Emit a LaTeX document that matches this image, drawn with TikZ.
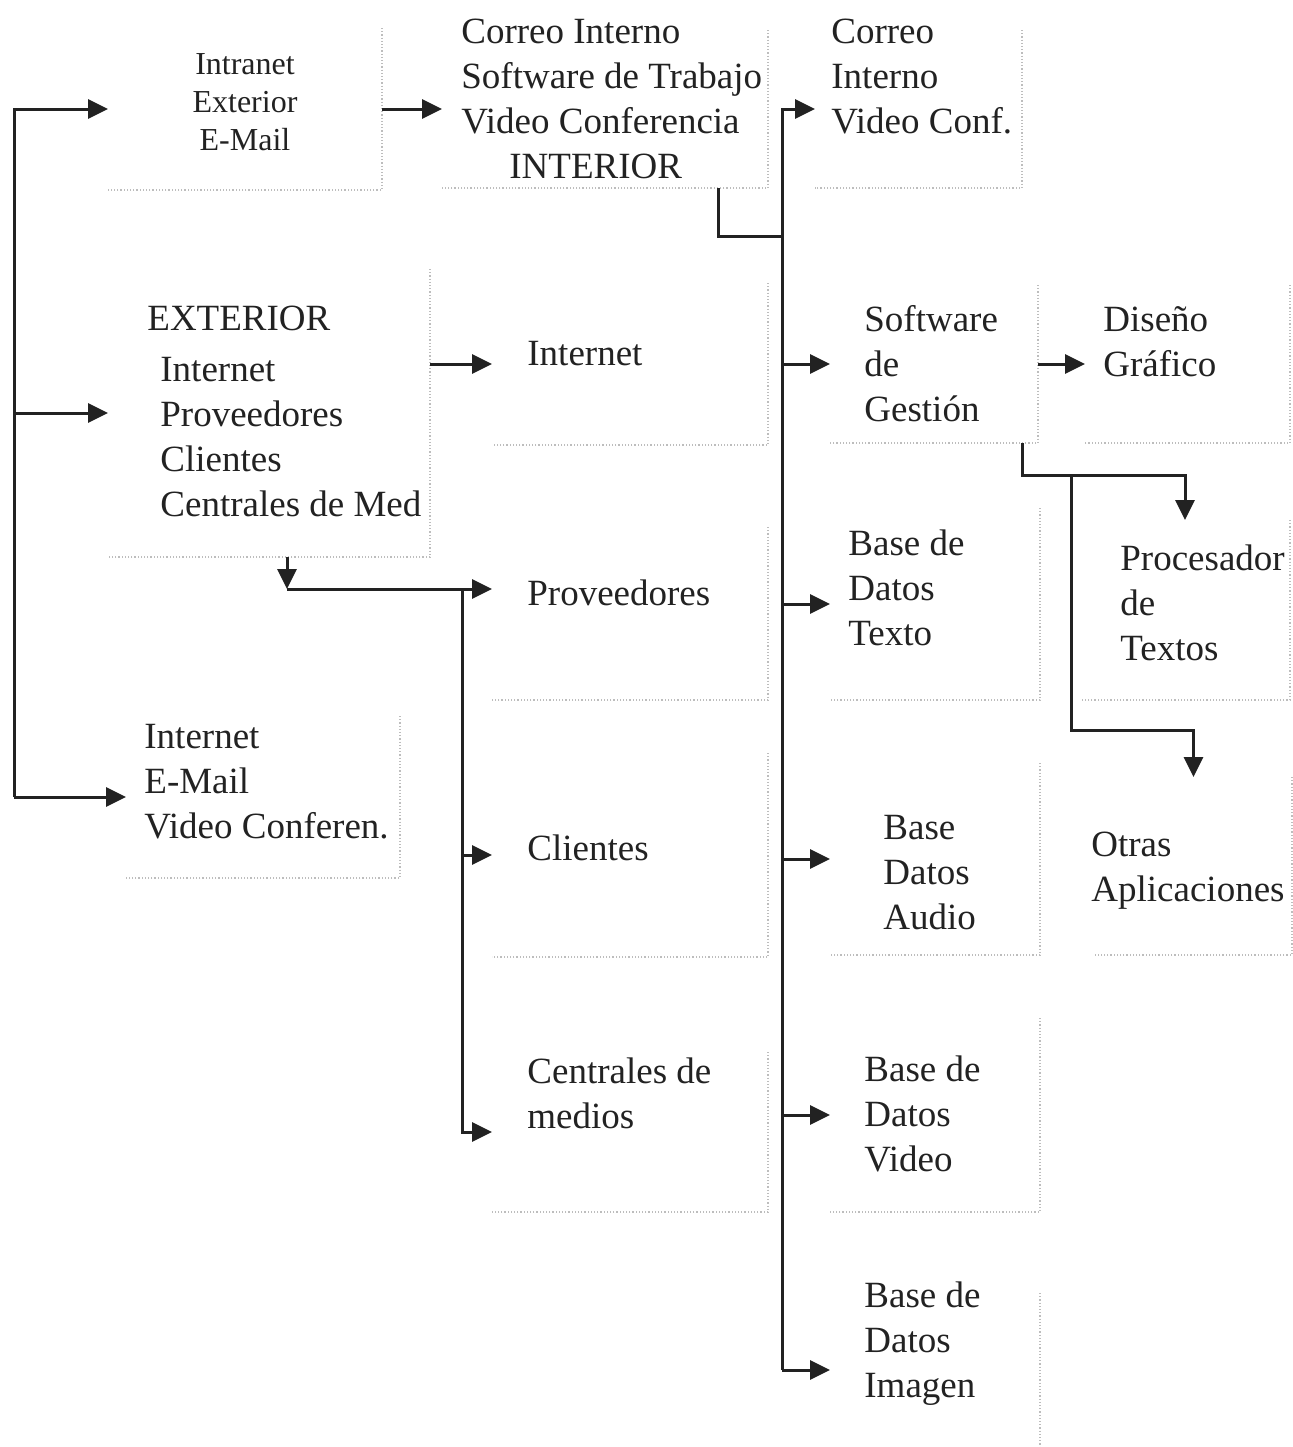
\documentclass[tikz,border=0pt]{standalone}
\usepackage{fontspec}
\setmainfont{Liberation Serif}
\usetikzlibrary{arrows.meta,fit}
\definecolor{ink}{HTML}{222222}
\definecolor{rim}{HTML}{BDBDBD}
\tikzset{
  frame/.style    = {inner sep=0pt, outer sep=0pt},
  rimline/.style  = {rim, densely dotted, line width=0.6pt},
  txt/.style      = {inner sep=0pt, align=left, anchor=base west, text=ink,
                     font=\fontsize{18.5}{22.4}\selectfont},
  smalltxt/.style = {inner sep=0pt, align=center, anchor=base, text=ink,
                     font=\fontsize{16}{19}\selectfont},
  link/.style     = {ink, line width=1.5pt},
  sig/.style      = {link, -{Triangle[length=10pt,width=9.5pt]}},
}
\begin{document}
\begin{tikzpicture}[x=0.5pt,y=-0.5pt]
\useasboundingbox (0,0) rectangle (1293,1447);
% frames (only right and bottom rims are shown)
\node[frame,fit={(108,28) (382,190)}]    (intra) {};
\node[frame,fit={(442,30) (768,188)}]    (interior) {};
\node[frame,fit={(815,30) (1022,188)}]   (vconf) {};
\node[frame,fit={(108,269) (430,557)}]   (ext) {};
\node[frame,fit={(492,283) (768,445)}]   (inet) {};
\node[frame,fit={(830,285) (1038,443)}]  (sgest) {};
\node[frame,fit={(1085,285) (1290,443)}] (disg) {};
\node[frame,fit={(492,527) (768,700)}]   (prov) {};
\node[frame,fit={(830,508) (1040,700)}]  (bdtex) {};
\node[frame,fit={(1080,520) (1290,700)}] (proc) {};
\node[frame,fit={(126,716) (400,878)}]   (iemail) {};
\node[frame,fit={(492,753) (768,957)}]   (cli) {};
\node[frame,fit={(830,763) (1040,955)}]  (bdaud) {};
\node[frame,fit={(1095,777) (1292,955)}] (otras) {};
\node[frame,fit={(492,1052) (768,1212)}] (cmed) {};
\node[frame,fit={(830,1018) (1040,1212)}] (bdvid) {};
\node[frame,fit={(830,1293) (1040,1447)}] (bdimg) {};
\foreach \n in {intra,interior,vconf,ext,inet,sgest,disg,prov,bdtex,proc,iemail,cli,bdaud,otras,cmed,bdvid}
  \draw[rimline] (\n.north east) -- (\n.south east) -- (\n.south west);
\draw[rimline] (bdimg.north east) -- (bdimg.south east);

% texts (placed at the baseline of their last line)
\node[smalltxt] (intraT) at (245,150) {Intranet\\Exterior\\E-Mail};
\node[txt] (interiorT) at (461,178) {Correo Interno\\Software de Trabajo\\Video Conferencia\\\hspace*{24pt}INTERIOR};
\node[txt] (vconfT) at (831,133) {Correo\\Interno\\Video Conf.};
\node[txt] (extT) at (147,516) {EXTERIOR\\[3.2pt]\hspace*{6.5pt}Internet\\\hspace*{6.5pt}Proveedores\\\hspace*{6.5pt}Clientes\\\hspace*{6.5pt}Centrales de Med};
\node[txt] (inetT) at (527,365) {Internet};
\node[txt] (sgestT) at (864,421) {Software\\de\\Gestión};
\node[txt] (disgT) at (1103,376) {Diseño\\Gráfico};
\node[txt] (provT) at (527,605) {Proveedores};
\node[txt] (bdtexT) at (848,645) {Base de\\Datos\\Texto};
\node[txt] (procT) at (1120,660) {Procesador\\de\\Textos};
\node[txt] (iemailT) at (144,838) {Internet\\E-Mail\\Video Conferen.};
\node[txt] (cliT) at (527,860) {Clientes};
\node[txt] (bdaudT) at (883,929) {Base\\Datos\\Audio};
\node[txt] (otrasT) at (1091,901) {Otras\\Aplicaciones};
\node[txt] (cmedT) at (527,1128) {Centrales de\\medios};
\node[txt] (bdvidT) at (864,1171) {Base de\\Datos\\Video};
\node[txt] (bdimgT) at (864,1397) {Base de\\Datos\\Imagen};

% buses and arrows
\coordinate (busL) at (14,0);
\coordinate (busM) at (782,0);
\coordinate (busP) at (462,0);
\coordinate (j1) at (718,236);
\coordinate (j2) at (287,589);
\coordinate (j4) at (1022,475);
\coordinate (j5) at (1071,730);

\draw[sig] (busL |- iemail.west) -- (busL |- intra.west) -- (intra.west);
\draw[sig] (busL |- ext.west) -- (ext.west);
\draw[sig] (busL |- iemail.west) -- (iemail.west);

\draw[sig] (intra.east) -- (interior.west);
\draw[link] (interior.south -| j1) |- (busM |- j1);

\draw[sig] (busM |- bdimg.west) -- (busM |- vconf.west) -- (vconf.west);
\draw[sig] (busM |- bdimg.west) -- (bdimg.west);
\foreach \n in {sgest,bdtex,bdaud,bdvid}
  \draw[sig] (busM |- \n.west) -- (\n.west);

\draw[sig] (ext.east |- inet.west) -- (inet.west);
\draw[sig] (ext.south -| j2) -- (j2);
\draw[sig] (j2) -- (j2 -| prov.west);
\draw[sig] (busP |- j2) -- (busP |- cmed.west) -- (cmed.west);
\draw[sig] (busP |- cli.west) -- (cli.west);

\draw[sig] (sgest.east) -- (disg.west);
\draw[sig] (sgest.south -| j4) -- (j4) -| (proc.north);
\draw[sig] (j5 |- j4) -- (j5) -| (otras.north);
\end{tikzpicture}
\end{document}
